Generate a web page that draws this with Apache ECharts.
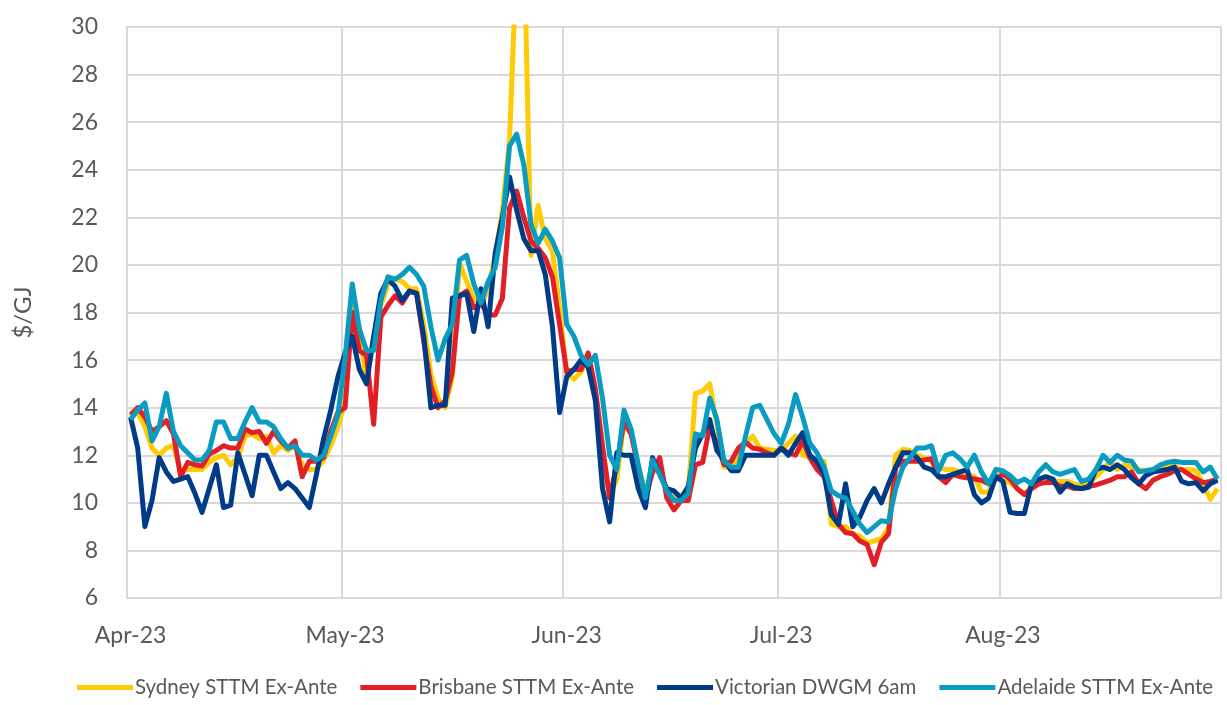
<!DOCTYPE html>
<html>
<head>
<meta charset="utf-8">
<script src="https://cdn.jsdelivr.net/npm/echarts@6/dist/echarts.min.js"></script>
<style>
  html, body { margin: 0; padding: 0; background: #fff; }
  #chart { width: 1227px; height: 705px; }
</style>
</head>
<body>
<div id="chart"></div>
<script>
// daily prices, 1 Apr 2023 - 31 Aug 2023 ($/GJ)
const startDate = '2023-04-01';
const endDate = '2023-08-31';
const seriesNames = ['Sydney STTM Ex-Ante', 'Brisbane STTM Ex-Ante', 'Victorian DWGM 6am', 'Adelaide STTM Ex-Ante'];
const monthNames = ['Jan', 'Feb', 'Mar', 'Apr', 'May', 'Jun', 'Jul', 'Aug', 'Sep', 'Oct', 'Nov', 'Dec'];

const sydney = [
  13.6, 13.8, 13.2, 12.3, 12.0, 12.3, 12.4, 11.3, 11.4, 11.4,
  11.4, 11.7, 11.9, 12.0, 11.6, 11.9, 12.8, 12.9, 12.7, 12.8,
  12.1, 12.4, 12.2, 12.4, 11.6, 11.4, 11.4, 11.8, 12.4, 13.2,
  14.3, 18.5, 17.3, 15.1, 17.0, 18.3, 19.2, 19.4, 19.3, 19.0,
  19.0, 17.5, 15.4, 14.4, 14.0, 15.3, 20.1, 19.3, 18.6, 18.3,
  19.0, 20.4, 22.3, 25.3, 33.0, 34.0, 20.4, 22.5, 21.1, 20.6,
  18.2, 15.4, 15.2, 15.5, 16.0, 14.5, 11.9, 10.3, 11.0, 13.4,
  12.9, 11.6, 10.4, 11.3, 11.4, 10.5, 10.2, 10.3, 10.5, 14.6,
  14.7, 15.0, 13.3, 11.5, 11.5, 12.0, 12.5, 12.8, 12.3, 12.25,
  12.2, 12.2, 12.5, 12.8, 12.0, 11.9, 11.8, 11.75, 9.1, 9.0,
  9.0, 8.7, 8.6, 8.3, 8.4, 8.5, 8.95, 12.0, 12.25, 12.2,
  12.0, 11.9, 11.75, 11.5, 11.4, 11.4, 11.3, 11.2, 11.1, 10.45,
  10.45, 11.2, 10.9, 10.85, 10.6, 10.35, 10.7, 10.85, 10.9, 10.9,
  10.9, 10.9, 10.8, 10.7, 10.8, 11.1, 11.4, 11.75, 11.4, 11.6,
  11.5, 11.4, 11.35, 11.4, 11.5, 11.55, 11.55, 11.4, 11.4, 11.35,
  10.8, 10.15, 10.6
];

const brisbane = [
  13.7, 14.0, 13.6, 13.0, 13.2, 13.45, 12.9, 11.1, 11.7, 11.6,
  11.55, 12.05, 12.2, 12.4, 12.3, 12.3, 13.1, 12.95, 13.0, 12.5,
  13.0, 12.6, 12.3, 12.6, 11.1, 11.75, 11.75, 11.9, 13.0, 13.8,
  14.0, 18.0, 16.4, 16.2, 13.3, 17.8, 18.3, 18.7, 18.4, 18.9,
  18.8, 16.8, 14.9, 14.0, 14.3, 15.5, 18.7, 18.9, 18.2, 18.4,
  17.9, 17.9, 18.6, 22.4, 23.1, 22.0, 21.0, 20.7, 20.3, 19.5,
  17.5, 15.5, 15.6, 15.6, 16.3, 14.8, 12.4, 10.2, 11.6, 13.4,
  12.9, 11.5, 10.2, 11.3, 11.9, 10.2, 9.7, 10.1, 10.1, 11.6,
  11.7, 13.2, 12.5, 11.6, 11.75, 12.3, 12.55, 12.3, 12.25, 12.1,
  12.0, 12.3, 12.1, 12.0, 12.6, 11.9, 11.4, 11.1, 10.1, 9.1,
  8.75, 8.7, 8.4, 8.25, 7.4, 8.35, 8.7, 11.5, 11.75, 11.75,
  11.75, 11.8, 11.85, 11.1, 10.85, 11.2, 11.1, 11.05, 11.0, 10.95,
  10.8, 11.0, 11.2, 11.0, 10.6, 10.35, 10.6, 10.8, 10.85, 10.85,
  10.7, 10.7, 10.6, 10.6, 10.7, 10.75, 10.85, 10.95, 11.1, 11.1,
  11.3, 10.8, 10.6, 10.95, 11.1, 11.2, 11.35, 11.4, 11.2, 11.0,
  10.85, 10.9, 11.0
];

const victoria = [
  13.6, 12.3, 9.0, 10.1, 11.9, 11.3, 10.9, 11.0, 11.1, 10.4,
  9.6, 10.6, 11.6, 9.8, 9.9, 12.1, 11.2, 10.3, 12.0, 12.0,
  11.3, 10.6, 10.85, 10.6, 10.2, 9.8, 11.2, 12.7, 13.9, 15.3,
  16.3, 17.0, 15.6, 15.0, 17.0, 18.8, 19.4, 19.1, 18.5, 18.9,
  18.8, 17.0, 14.0, 14.1, 14.1, 18.6, 18.7, 18.8, 17.2, 19.0,
  17.4, 20.5, 22.0, 23.7, 22.3, 21.1, 20.6, 20.6, 19.6, 17.4,
  13.8, 15.3, 15.6, 16.0, 15.7, 14.3, 10.6, 9.2, 12.1, 12.0,
  12.0, 10.6, 9.8, 11.9, 11.2, 10.6, 10.5, 10.2, 10.7, 12.3,
  12.9, 13.5, 12.2, 11.8, 11.35, 11.35, 12.0, 12.0, 12.0, 12.0,
  12.0, 12.3, 12.0, 12.5, 12.95, 12.0, 11.75, 11.2, 9.5, 9.1,
  10.8, 9.0, 9.4, 10.1, 10.6, 10.0, 10.8, 11.5, 12.1, 12.1,
  11.9, 11.5, 11.4, 11.1, 11.1, 11.2, 11.3, 11.4, 10.35, 10.0,
  10.2, 11.1, 10.9, 9.6, 9.55, 9.55, 10.8, 11.0, 11.1, 11.0,
  10.45, 10.8, 10.65, 10.6, 10.65, 11.4, 11.5, 11.4, 11.6, 11.4,
  11.05, 10.8, 11.15, 11.3, 11.35, 11.4, 11.5, 10.9, 10.8, 10.85,
  10.5, 10.8, 10.95
];

const adelaide = [
  13.5, 13.9, 14.2, 12.6, 13.2, 14.6, 13.0, 12.4, 12.1, 11.8,
  11.8, 12.2, 13.4, 13.4, 12.7, 12.7, 13.4, 14.0, 13.4, 13.4,
  13.2, 12.7, 12.3, 12.4, 12.0, 12.0, 11.8, 12.0, 12.8, 13.7,
  16.1, 19.2, 17.3, 16.4, 16.4, 18.5, 19.5, 19.4, 19.6, 19.9,
  19.6, 19.1, 17.4, 16.0, 16.9, 17.5, 20.2, 20.4, 19.2, 18.4,
  19.3, 19.9, 21.6, 25.0, 25.5, 24.2, 21.7, 20.9, 21.5, 21.0,
  20.3, 17.5, 17.0, 16.2, 15.8, 16.2, 14.4, 12.0, 11.4, 13.9,
  13.1, 11.6, 10.2, 11.8, 11.2, 10.5, 10.1, 10.1, 10.4, 12.9,
  12.8, 14.4, 13.5, 11.75, 11.5, 11.5, 12.8, 14.0, 14.1, 13.5,
  12.9, 12.5, 13.3, 14.55, 13.6, 12.5, 12.1, 11.5, 10.5, 10.3,
  10.2, 9.65, 9.1, 8.75, 9.0, 9.25, 9.2, 10.6, 11.5, 11.9,
  12.3, 12.3, 12.4, 11.35, 12.0, 12.1, 11.85, 11.5, 12.0, 11.3,
  10.8, 11.4, 11.35, 11.15, 10.85, 11.0, 10.8, 11.3, 11.6, 11.3,
  11.2, 11.3, 11.4, 10.9, 11.0, 11.4, 12.0, 11.7, 12.0, 11.8,
  11.75, 11.3, 11.35, 11.4, 11.6, 11.7, 11.75, 11.7, 11.7, 11.7,
  11.3, 11.5, 11.0
];

// one category per day
const days = [];
for (let d = new Date(startDate + 'T00:00:00Z'); d <= new Date(endDate + 'T00:00:00Z'); d.setUTCDate(d.getUTCDate() + 1)) {
    days.push(d.toISOString().slice(0, 10));
}
const isMonthStart = (idx, val) => val.slice(8, 10) === '01';

const font = 'Lato, "Noto Sans", sans-serif';
const colors = ['#FFCB05', '#E21F26', '#003B87', '#0A9CC0'];

let chart = echarts.init(document.getElementById('chart'));

let option = {
    animation: false,
    color: colors,
    grid: {
        left: 127, right: 6, top: 27, bottom: 107,
        show: true, borderColor: '#d9d9d9', borderWidth: 2
    },
    legend: {
        bottom: 2,
        left: 72,
        icon: 'rect',
        itemWidth: 56,
        itemHeight: 5,
        itemGap: 23,
        textStyle: { fontFamily: font, fontSize: 20.5, color: '#595959', padding: [0, 0, 0, -3] },
        data: seriesNames
    },
    xAxis: {
        type: 'category',
        data: days,
        boundaryGap: true,
        axisLine: { lineStyle: { color: '#d9d9d9', width: 2 } },
        axisTick: { show: false },
        axisLabel: {
            interval: isMonthStart,
            margin: 26,
            fontFamily: font,
            fontSize: 23,
            color: '#595959',
            formatter: v => monthNames[parseInt(v.slice(5, 7)) - 1] + '-' + v.slice(2, 4)
        },
        splitLine: { show: true, interval: isMonthStart, lineStyle: { color: '#d9d9d9', width: 2 } }
    },
    yAxis: {
        type: 'value',
        min: 6,
        max: 30,
        interval: 2,
        name: '$/GJ',
        nameLocation: 'middle',
        nameGap: 92,
        nameTextStyle: { fontFamily: font, fontSize: 24, color: '#595959' },
        axisLine: { show: true, lineStyle: { color: '#d9d9d9', width: 2 } },
        axisTick: { show: false },
        axisLabel: { margin: 29, fontFamily: font, fontSize: 23, color: '#595959' },
        splitLine: { lineStyle: { color: '#d9d9d9', width: 2 } }
    },
    series: [
        { name: seriesNames[0], data: sydney },
        { name: seriesNames[1], data: brisbane },
        { name: seriesNames[2], data: victoria },
        { name: seriesNames[3], data: adelaide }
    ].map(s => Object.assign(s, {
        type: 'line',
        symbol: 'none',
        clip: true,
        lineStyle: { width: 5, join: 'round' }
    }))
};

chart.setOption(option);
</script>
</body>
</html>
